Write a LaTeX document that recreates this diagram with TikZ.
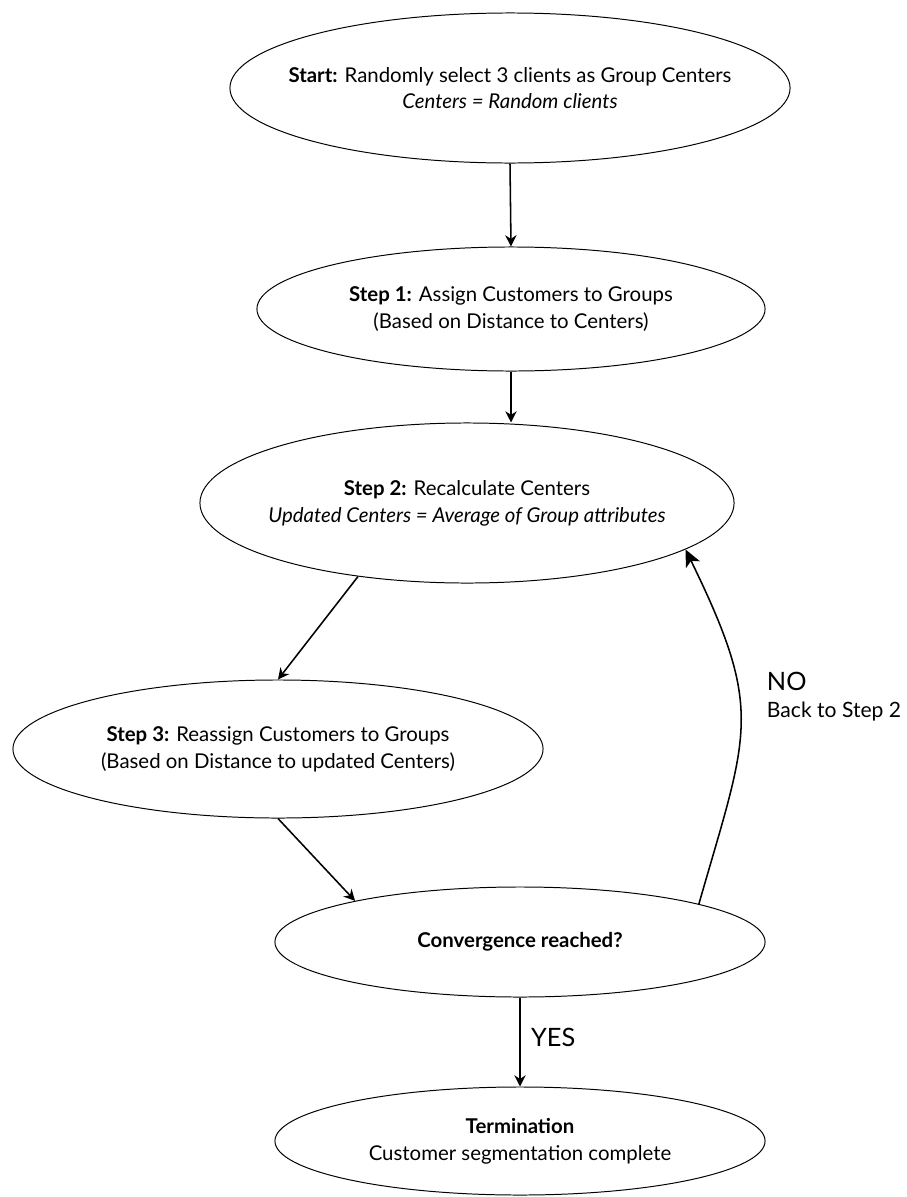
\documentclass[tikz,border=0pt]{standalone}
\usepackage{fontspec}
\setmainfont{Lato}
\usetikzlibrary{arrows.meta,shapes.geometric}

\tikzset{
	phase/.style={ellipse, draw, line width=0.7pt, inner xsep=-4em, inner ysep=0pt, align=center, font=\fontsize{14.5}{19}\selectfont},
	flow/.style={line width=1.1pt, -{Stealth[length=8pt, width=8pt]}},
	loopback/.style={line width=1.1pt, -{Stealth[length=12pt, width=11pt, inset=3pt]}},
	answer/.style={font=\fontsize{18}{20}\selectfont},
	remark/.style={font=\fontsize{15}{17}\selectfont}
}

\begin{document}
\begin{tikzpicture}[x=0.025cm, y=0.025cm]
			%%%%% START %%%%%
			
			\fill[white] (0, 0) rectangle (907, -1197);
			
			\node[phase, minimum width=14cm, minimum height=3.75cm] (start) at (510, -88) {\textbf{Start:} Randomly select 3 clients as Group Centers\\ \textit{Centers = Random clients}};
			\node[phase, minimum width=12.7cm, minimum height=3.1cm] (stepone) at (511, -309) {\textbf{Step 1:} Assign Customers to Groups\\ (Based on Distance to Centers)};
			\node[phase, minimum width=13.35cm, minimum height=4cm] (steptwo) at (467, -503) {\textbf{Step 2:} Recalculate Centers\\ \textit{Updated Centers = Average of Group attributes}};
			\node[phase, minimum width=13.25cm, minimum height=3.45cm] (stepthree) at (278, -749) {\textbf{Step 3:} Reassign Customers to Groups\\ (Based on Distance to updated Centers)};
			\node[phase, minimum width=12.25cm, minimum height=2.75cm] (conv) at (520, -942) {\textbf{Convergence reached?}};
			\node[phase, minimum width=12.25cm, minimum height=2.7cm] (term) at (520, -1141) {\textbf{Termination}\\ Customer segmentation complete};
			
			\draw[flow] (start.south) -- (stepone.north);
			\draw[flow] (stepone.south) -- (stepone.south |- steptwo.north);
			\draw[flow] (steptwo.214) -- (stepthree.north);
			\draw[flow] (stepthree.south) -- (conv.166);
			\draw[loopback] (conv.12) to[out=74, in=-64, looseness=1.3] (steptwo.-12);
			\draw[flow] (conv.south) -- node[answer, right=4pt, pos=0.45] (yes) {YES} (term.north);
			
			\node[answer, anchor=west] (no) at (762, -681) {NO};
			\node[remark, anchor=west] (back) at (762, -712) {Back to Step 2};
			
			%%%%% END %%%%%
\end{tikzpicture}
\end{document}
